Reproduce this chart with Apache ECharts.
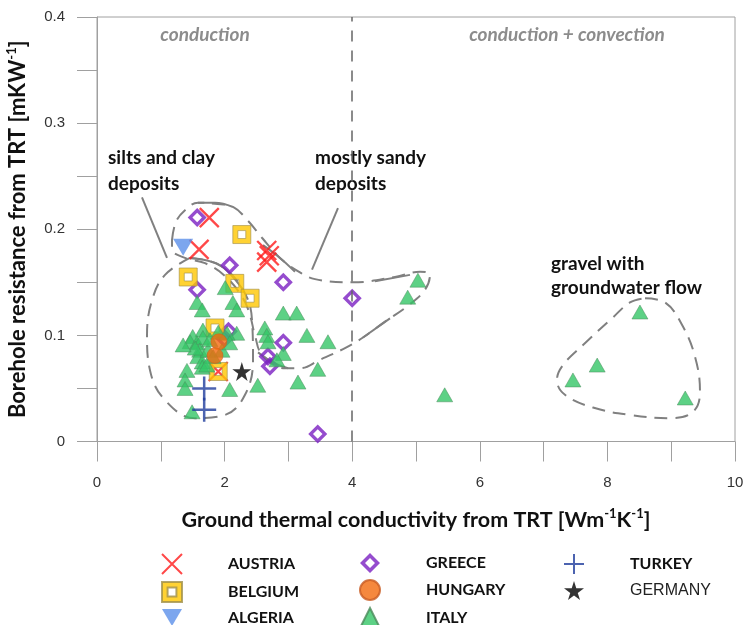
<!DOCTYPE html>
<html><head><meta charset="utf-8">
<script src="https://cdn.jsdelivr.net/npm/echarts@6/dist/echarts.min.js"></script>
<style>html,body{margin:0;padding:0;background:#fff}#c{width:745px;height:625px}</style>
</head><body><div id="c"></div>
<script>
// ---- data (x: W/mK, y: mK/W) ----
const austria = [[1.76,0.211],[1.60,0.181],[2.66,0.180],[2.70,0.175],[2.66,0.169],[1.90,0.066]];
const belgium = [[2.27,0.195],[1.43,0.155],[2.16,0.149],[2.40,0.135],[1.85,0.107],[1.90,0.066]];
const algeria = [[1.35,0.183]];
const greece = [[1.57,0.211],[2.08,0.166],[1.57,0.143],[2.92,0.150],[4.00,0.135],[2.06,0.104],[2.00,0.097],[2.92,0.093],[2.68,0.080],[2.71,0.071],[3.46,0.007]];
const hungary = [[1.91,0.094],[1.85,0.081]];
const italy = [[2.01,0.145],[1.57,0.131],[1.65,0.124],[2.13,0.131],[2.19,0.124],[2.92,0.121],[3.13,0.121],[3.29,0.100],[3.62,0.094],[5.03,0.152],[4.87,0.136],[2.63,0.107],[2.66,0.100],[2.68,0.094],[2.19,0.102],[2.92,0.083],[2.82,0.077],[3.46,0.068],[2.52,0.053],[3.15,0.056],[2.08,0.049],[5.45,0.044],[8.51,0.122],[7.84,0.072],[7.46,0.058],[9.22,0.041],[1.66,0.105],[1.50,0.099],[1.46,0.094],[1.57,0.093],[1.66,0.098],[1.90,0.103],[1.61,0.086],[1.58,0.080],[1.65,0.075],[1.65,0.070],[1.74,0.086],[2.04,0.102],[1.96,0.086],[1.41,0.067],[1.38,0.058],[1.38,0.050],[1.49,0.028],[2.08,0.093],[1.77,0.096],[1.54,0.088],[1.82,0.080],[1.72,0.072],[1.35,0.091]];
const turkey = [[1.68,0.050],[1.68,0.030]];
const germany = [[2.27,0.066]];
const boundaryX = 4;
const xTickLabels = ['0','2','4','6','8','10'];
const yTickLabels = ['0','0.1','0.2','0.3','0.4'];
// ---- annotation outlines (data units) ----
const siltsOutline = [[1.458,0.173],[1.928,0.166],[2.288,0.143],[2.429,0.115],[2.445,0.077],[2.320,0.044],[2.006,0.025],[1.536,0.022],[1.066,0.039],[0.831,0.067],[0.784,0.100],[0.862,0.133],[1.066,0.157],[1.458,0.173]];
const sandyOutline = [[1.176,0.190],[1.238,0.207],[1.379,0.218],[1.583,0.225],[1.850,0.224],[2.132,0.221],[2.367,0.208],[2.586,0.192],[2.868,0.173],[3.135,0.161],[3.417,0.153],[4.013,0.150],[4.671,0.155],[5.063,0.160],[5.219,0.157],[5.141,0.143],[4.875,0.128],[4.514,0.113],[4.169,0.098],[3.887,0.088],[3.495,0.077],[3.182,0.069],[2.947,0.069],[2.586,0.082],[2.476,0.100],[2.398,0.119],[2.288,0.135],[2.006,0.156],[1.693,0.168],[1.379,0.173],[1.176,0.181],[1.176,0.190]];
const gravelOutline = [[8.589,0.135],[8.903,0.131],[9.169,0.110],[9.373,0.080],[9.451,0.047],[9.342,0.028],[8.981,0.022],[8.354,0.025],[7.774,0.032],[7.335,0.044],[7.210,0.058],[7.304,0.072],[7.618,0.091],[8.088,0.117],[8.354,0.131],[8.589,0.135]];
const solidArcs = [
  [[1.583,0.225],[1.850,0.225],[2.132,0.221]],
  [[2.602,0.185],[2.868,0.173],[3.103,0.160]],
  [[4.357,0.151],[4.906,0.157]],
  [[4.592,0.116],[4.169,0.098]],
  [[2.524,0.084],[2.743,0.075],[2.994,0.069]],
  [[1.458,0.173],[1.928,0.166],[2.288,0.143]],
  [[0.705,0.230],[1.097,0.173]],
  [[3.777,0.220],[3.370,0.162]]
];

const FONT = 'Lato';
const chart = echarts.init(document.getElementById('c'), null, {renderer:'canvas'});
const outlineStyle = {color:'#808080', width:2, type:[13,8]};
function outline(d){return {type:'line', data:d, smooth:0.4, showSymbol:false, silent:true, z:1, lineStyle:outlineStyle, animation:false};}
const series = [
  outline(siltsOutline), outline(sandyOutline), outline(gravelOutline),
  ...solidArcs.map(a => ({type:'line', data:a, smooth:0.4, showSymbol:false, silent:true, z:1, lineStyle:{color:'#808080', width:2}, animation:false})),
  {type:'line', data:[], silent:true, markLine:{silent:true, symbol:'none', label:{show:false}, lineStyle:{color:'#666', width:1.5, type:[11,9]}, data:[{xAxis:boundaryX}]}},
  {name:'GREECE', type:'scatter', data:greece, z:3, symbol:'path://M5,0L10,5L5,10L0,5ZM5,2.5L2.5,5L5,7.5L7.5,5Z', symbolSize:19, itemStyle:{color:'#7a1fc2'}},
  {name:'AUSTRIA', type:'scatter', data:austria, z:3, symbol:'path://M0,0L10,10M10,0L0,10', symbolSize:19, itemStyle:{color:'#ff1a1a', borderColor:'#ff1a1a', borderWidth:2.3}},
  {name:'BELGIUM', type:'scatter', data:belgium, z:4, symbol:'path://M0,0L10,0L10,10L0,10ZM2.8,2.8L2.8,7.2L7.2,7.2L7.2,2.8Z', symbolSize:18, itemStyle:{color:'#ffc700', borderColor:'#a0904a', borderWidth:0.8}},
  {name:'ITALY', type:'scatter', data:italy, z:5, symbol:'triangle', symbolSize:[16,14], itemStyle:{color:'#35c567', borderColor:'#4a8a5a', borderWidth:0.6}},
  {name:'HUNGARY', type:'scatter', data:hungary, z:6, symbol:'circle', symbolSize:16, itemStyle:{color:'#f26a0e', borderColor:'#c85a20', borderWidth:0.6}},
  {name:'ALGERIA', type:'scatter', data:algeria, z:6, symbol:'path://M0,0L10,0L5,8.5Z', symbolSize:[20,17], itemStyle:{color:'#5b90ea'}},
  {name:'TURKEY', type:'scatter', data:turkey, z:6, symbol:'path://M5,0L5,10M0,5L10,5', symbolSize:24, itemStyle:{color:'#1f3c9c', borderColor:'#1f3c9c', borderWidth:2.5}},
  {name:'GERMANY', type:'scatter', data:germany, z:6, symbol:'path://M50,0L61,35L98,35L68,57L79,91L50,70L21,91L32,57L2,35L39,35Z', symbolSize:19, itemStyle:{color:'#000'}}
];
const legendText = {fontFamily:FONT, fontWeight:'bold', fontSize:16, color:'#111', padding:[0,0,0,41]};
function legend(left, names){
  return {left:left, top:553, width:190, height:100, padding:0, orient:'vertical', itemWidth:20, itemHeight:20, itemGap:6, selectedMode:false, textStyle:legendText,
    data:names.map(n => n==='GERMANY' ? {name:n, textStyle:{fontFamily:'Liberation Sans', fontWeight:'normal', fontSize:16, color:'#222', padding:[0,0,0,41]}} : n)};
}
const supRich = (fs) => ({n:{fontFamily:FONT, fontWeight:'bold', fontSize:fs, color:'#111', lineHeight:fs+4}, s:{fontFamily:FONT, fontWeight:'bold', fontSize:Math.round(fs*0.6), color:'#111', verticalAlign:'top', lineHeight:fs+4}});
chart.setOption({
  animation:false,
  grid:{left:97, right:10, top:17, bottom:183.5, show:true, borderColor:'#a0a0a0', borderWidth:1, containLabel:false, outerBoundsMode:'none'},
  xAxis:{type:'value', min:0, max:10, interval:1,
    name:'{n|Ground thermal conductivity from TRT [Wm}{s|-1}{n|K}{s|-1}{n|]}', nameLocation:'middle', nameGap:66,
    nameTextStyle:{rich:supRich(21.5)},
    axisLine:{show:true, onZero:false, lineStyle:{color:'#a0a0a0'}},
    axisTick:{show:true, length:20, lineStyle:{color:'#a0a0a0'}},
    splitLine:{show:false},
    axisLabel:{margin:34, fontFamily:'Liberation Sans', fontSize:15, color:'#333',
      formatter:v => (Math.round(v)%2===0 ? xTickLabels[Math.round(v)/2] : '')}},
  yAxis:{type:'value', min:0, max:0.4, interval:0.05,
    name:'{n|Borehole resistance from TRT [mKW}{s|-1}{n|]}', nameLocation:'middle', nameGap:66,
    nameTextStyle:{rich:supRich(22)},
    axisLine:{show:true, onZero:false, lineStyle:{color:'#a0a0a0'}},
    axisTick:{show:true, length:20, lineStyle:{color:'#a0a0a0'}},
    splitLine:{show:false},
    axisLabel:{margin:32, fontFamily:'Liberation Sans', fontSize:15, color:'#333',
      formatter:v => {const r=Math.round(v*100); return r%10===0 ? yTickLabels[r/10] : '';}}},
  legend:[legend(161,['AUSTRIA','BELGIUM','ALGERIA']), legend(359,['GREECE','HUNGARY','ITALY']), legend(563,['TURKEY','GERMANY'])],
  graphic:[
    {type:'text', x:205, y:35, style:{text:'conduction', fill:'#8c8c8c', font:'italic bold 19px Lato', align:'center', verticalAlign:'middle'}},
    {type:'text', x:567, y:35, style:{text:'conduction + convection', fill:'#8c8c8c', font:'italic bold 19px Lato', align:'center', verticalAlign:'middle'}},
    {type:'text', x:108, y:145, style:{text:'silts and clay\ndeposits', fill:'#111', font:'bold 19px Lato', lineHeight:26}},
    {type:'text', x:315, y:145, style:{text:'mostly sandy\ndeposits', fill:'#111', font:'bold 19px Lato', lineHeight:26}},
    {type:'text', x:551, y:252, style:{text:'gravel with\ngroundwater flow', fill:'#111', font:'bold 19px Lato', lineHeight:24}}
  ],
  series:series
});
</script></body></html>
